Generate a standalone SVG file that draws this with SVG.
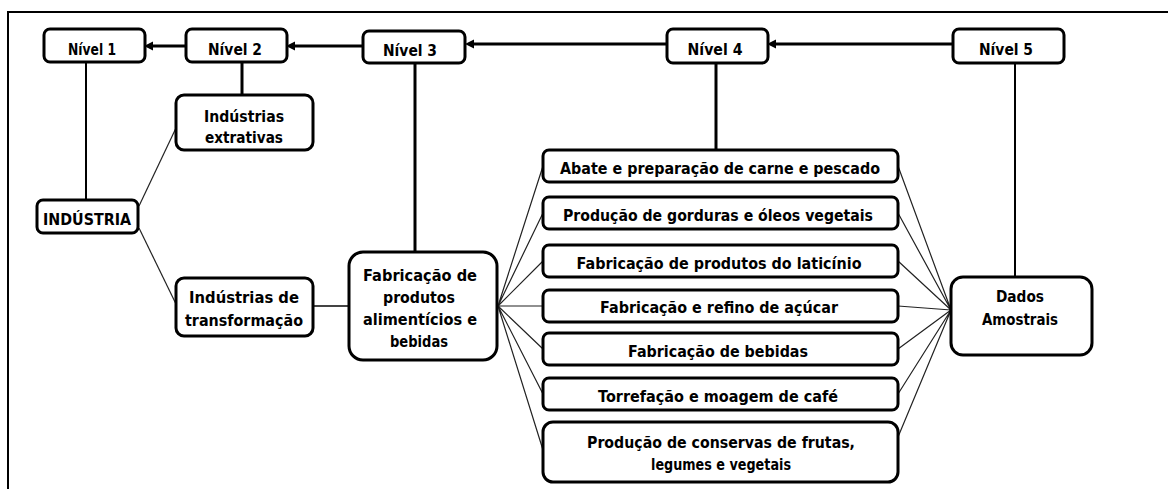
<svg xmlns="http://www.w3.org/2000/svg" width="1168" height="489" viewBox="0 0 1168 489">
<style>
  .box { fill: #fff; stroke: #000; stroke-width: 3; }
  .t { font-family: "DejaVu Sans", "Verdana", sans-serif; font-weight: bold; font-size: 16px; fill: #000; text-anchor: middle; }
  .arr { stroke: #000; stroke-width: 3; fill: none; }
  .v3 { stroke: #000; stroke-width: 3; fill: none; }
  .v2 { stroke: #000; stroke-width: 2; fill: none; }
  .thin { stroke: #222; stroke-width: 1.2; fill: none; }
  .mid { stroke: #444; stroke-width: 2; fill: none; }
  .frame { stroke: #000; stroke-width: 2; fill: none; }
</style>
<defs>
  <marker id="ah" markerUnits="userSpaceOnUse" markerWidth="10" markerHeight="10" refX="4" refY="4.5" orient="auto">
    <path d="M0,0 L9,4.5 L0,9 z" fill="#000"/>
  </marker>
</defs>
<rect width="1168" height="489" fill="#fff"/>
<path class="frame" d="M8,489 L8,12 L1168,12"/>

<g id="connectors">
  <path class="arr" d="M186,46 L149,46" marker-end="url(#ah)"/>
  <path class="arr" d="M363,46 L291,46" marker-end="url(#ah)"/>
  <path class="arr" d="M667,44 L470,44" marker-end="url(#ah)"/>
  <path class="arr" d="M953,44 L772,44" marker-end="url(#ah)"/>
  <path class="v2" d="M86,62 L86,200"/>
  <path class="v3" d="M242,62 L242,95"/>
  <path class="v3" d="M415,63 L415,252"/>
  <path class="v3" d="M716,63 L716,150"/>
  <path class="v2" d="M1015,63 L1015,277"/>
  <path class="thin" d="M139,206 L176,128"/>
  <path class="thin" d="M139,228 L176,304"/>
  <path class="mid" d="M313,306 L349,306"/>
  <path class="thin" d="M498,306 L543,166 M498,306 L543,213 M498,306 L543,261 M498,306 L543,306 M498,306 L543,349 M498,306 L543,394 M498,306 L543,450"/>
  <path class="thin" d="M898,166 L951,310 M898,213 L951,310 M898,261 L951,310 M898,306 L951,310 M898,349 L951,310 M898,394 L951,310 M898,437 L951,310"/>
</g>

<g id="nivel1"><rect class="box" x="44" y="29" width="101" height="33" rx="6"/><text class="t" x="92" y="55" textLength="48" lengthAdjust="spacingAndGlyphs">Nível 1</text></g>
<g id="nivel2"><rect class="box" x="186" y="29" width="101" height="33" rx="6"/><text class="t" x="235" y="55" textLength="54" lengthAdjust="spacingAndGlyphs">Nível 2</text></g>
<g id="nivel3"><rect class="box" x="363" y="31" width="102" height="32" rx="6"/><text class="t" x="410" y="56" textLength="54" lengthAdjust="spacingAndGlyphs">Nível 3</text></g>
<g id="nivel4"><rect class="box" x="667" y="29" width="101" height="34" rx="6"/><text class="t" x="715" y="55" textLength="55" lengthAdjust="spacingAndGlyphs">Nível 4</text></g>
<g id="nivel5"><rect class="box" x="953" y="29" width="111" height="34" rx="6"/><text class="t" x="1006" y="55" textLength="54" lengthAdjust="spacingAndGlyphs">Nível 5</text></g>

<g id="extrativas"><rect class="box" x="176" y="95" width="137" height="55" rx="8"/>
  <text class="t" x="244" y="122" textLength="80" lengthAdjust="spacingAndGlyphs">Indústrias</text>
  <text class="t" x="244" y="143" textLength="78" lengthAdjust="spacingAndGlyphs">extrativas</text></g>
<g id="industria"><rect class="box" x="37" y="200" width="101" height="33" rx="6"/>
  <text class="t" x="87" y="225" textLength="88" lengthAdjust="spacingAndGlyphs">INDÚSTRIA</text></g>
<g id="transformacao"><rect class="box" x="176" y="278" width="137" height="58" rx="8"/>
  <text class="t" x="244" y="303" textLength="110" lengthAdjust="spacingAndGlyphs">Indústrias de</text>
  <text class="t" x="244" y="326" textLength="118" lengthAdjust="spacingAndGlyphs">transformação</text></g>
<g id="alimenticios"><rect class="box" x="349" y="252" width="148" height="108" rx="14"/>
  <text class="t" x="420" y="281" textLength="114" lengthAdjust="spacingAndGlyphs">Fabricação de</text>
  <text class="t" x="419" y="303" textLength="72" lengthAdjust="spacingAndGlyphs">produtos</text>
  <text class="t" x="420" y="325" textLength="114" lengthAdjust="spacingAndGlyphs">alimentícios e</text>
  <text class="t" x="419" y="347" textLength="58" lengthAdjust="spacingAndGlyphs">bebidas</text></g>

<g id="abate"><rect class="box" x="543" y="150" width="355" height="32" rx="6"/>
  <text class="t" x="720" y="174" textLength="320" lengthAdjust="spacingAndGlyphs">Abate e preparação de carne e pescado</text></g>
<g id="gorduras"><rect class="box" x="543" y="197" width="355" height="32" rx="6"/>
  <text class="t" x="718" y="221" textLength="310" lengthAdjust="spacingAndGlyphs">Produção de gorduras e óleos vegetais</text></g>
<g id="laticinio"><rect class="box" x="543" y="245" width="355" height="32" rx="6"/>
  <text class="t" x="719" y="269" textLength="285" lengthAdjust="spacingAndGlyphs">Fabricação de produtos do laticínio</text></g>
<g id="acucar"><rect class="box" x="543" y="290" width="355" height="32" rx="6"/>
  <text class="t" x="719" y="313" textLength="238" lengthAdjust="spacingAndGlyphs">Fabricação e refino de açúcar</text></g>
<g id="bebidas"><rect class="box" x="543" y="333" width="355" height="32" rx="6"/>
  <text class="t" x="718" y="357" textLength="180" lengthAdjust="spacingAndGlyphs">Fabricação de bebidas</text></g>
<g id="torrefacao"><rect class="box" x="543" y="378" width="355" height="32" rx="6"/>
  <text class="t" x="718" y="402" textLength="240" lengthAdjust="spacingAndGlyphs">Torrefação e moagem de café</text></g>
<g id="conservas"><rect class="box" x="543" y="422" width="355" height="60" rx="10"/>
  <text class="t" x="721" y="448" textLength="268" lengthAdjust="spacingAndGlyphs">Produção de conservas de frutas,</text>
  <text class="t" x="721" y="470" textLength="140" lengthAdjust="spacingAndGlyphs">legumes e vegetais</text></g>

<g id="dados"><rect class="box" x="951" y="277" width="141" height="78" rx="12"/>
  <text class="t" x="1020" y="302" textLength="48" lengthAdjust="spacingAndGlyphs">Dados</text>
  <text class="t" x="1020" y="325" textLength="76" lengthAdjust="spacingAndGlyphs">Amostrais</text></g>
</svg>
